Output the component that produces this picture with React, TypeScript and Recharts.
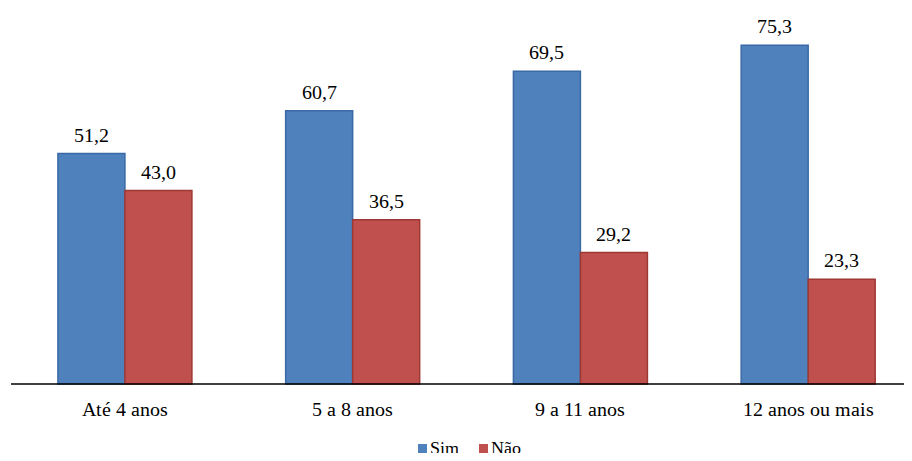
import { Bar, BarChart, LabelList, Legend, XAxis, YAxis } from "recharts";

const categories = ["Até 4 anos", "5 a 8 anos", "9 a 11 anos", "12 anos ou mais"];
const sim = [51.2, 60.7, 69.5, 75.3];
const nao = [43.0, 36.5, 29.2, 23.3];

const data = categories.map((name, i) => ({ name, sim: sim[i], nao: nao[i] }));

const FONT = "ChartSerif, Liberation Serif, DejaVu Serif, Times New Roman, serif";
const fmt = (v: number) => v.toFixed(1).replace(".", ",");

const fontFace = `
@font-face {
  font-family: "ChartSerif";
  src: local("Liberation Serif"), local("LiberationSerif-Regular"), local("LiberationSerif"), local("DejaVu Serif"), local("DejaVuSerif");
}
`;

const legendItems = [
  { label: "Sim", color: "#4F81BD" },
  { label: "Não", color: "#C0504D" },
];

function LegendContent() {
  return (
    <svg width={912} height={22} style={{ display: "block" }}>
      {legendItems.map((it, i) => (
        <g key={it.label} transform={`translate(${418 + i * 61}, 0)`}>
          <rect x={0} y={7} width={9} height={9} fill={it.color} />
          <text x={12} y={17} fontFamily={FONT} fontSize={18} fill="#000">
            {it.label}
          </text>
        </g>
      ))}
    </svg>
  );
}

function ValueLabel(props: any) {
  const { x, y, width, value } = props;
  return (
    <text x={x + width / 2} y={y - 12} textAnchor="middle" fontFamily={FONT} fontSize={20} fill="#000">
      {fmt(value)}
    </text>
  );
}

export default function App() {
  return (
    <div style={{ position: "relative", margin: -8, width: 912, height: 461, overflow: "hidden", background: "#fff", fontFamily: FONT }}>
      <style>{fontFace}</style>
      <BarChart
        width={930}
        height={461}
        data={data}
        margin={{ top: 24, right: 8, left: 11, bottom: 15 }}
        barCategoryGap="20.6%"
        barGap={0}
      >
        <XAxis
          dataKey="name"
          axisLine={{ stroke: "#000", strokeWidth: 1.5 }}
          tickLine={false}
          tick={{ fill: "#000", fontSize: 20, fontFamily: FONT }}
          tickMargin={12}
          height={40}
        />
        <YAxis hide domain={[0, 80]} />
        <Legend content={<LegendContent />} wrapperStyle={{ position: "absolute", top: 437, left: 0, width: 912, height: 22 }} />
        <Bar dataKey="sim" fill="#4F81BD" stroke="#3A6AA6" strokeWidth={1.5} isAnimationActive={false}>
          <LabelList dataKey="sim" content={<ValueLabel />} />
        </Bar>
        <Bar dataKey="nao" fill="#C0504D" stroke="#9E3835" strokeWidth={1.5} isAnimationActive={false}>
          <LabelList dataKey="nao" content={<ValueLabel />} />
        </Bar>
      </BarChart>
    </div>
  );
}
